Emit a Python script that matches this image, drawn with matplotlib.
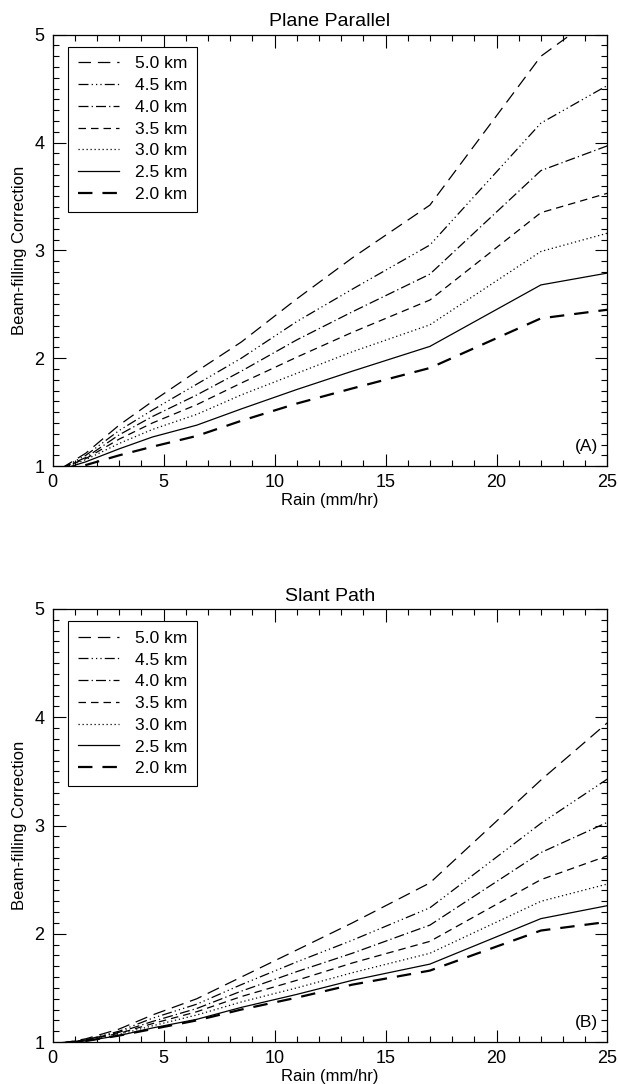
import matplotlib
matplotlib.use("Agg")
import matplotlib.pyplot as plt
from matplotlib.ticker import MultipleLocator

plt.rcParams['font.family'] = ['Liberation Sans', 'DejaVu Sans']

# rain rate (mm/hr) at the curve break points
rain = [0.4, 1.5, 3, 4.5, 6.5, 8.5, 11, 13.5, 17, 22, 25]

heights = ["5.0 km", "4.5 km", "4.0 km", "3.5 km", "3.0 km", "2.5 km", "2.0 km"]

# (A) plane parallel
pp_50 = [0.98, 1.12, 1.38, 1.60, 1.88, 2.15, 2.55, 2.93, 3.42, 4.80, 5.25]
pp_45 = [0.98, 1.10, 1.33, 1.52, 1.76, 2.00, 2.34, 2.64, 3.05, 4.18, 4.53]
pp_40 = [0.98, 1.08, 1.29, 1.46, 1.66, 1.88, 2.17, 2.43, 2.78, 3.74, 3.97]
pp_35 = [0.98, 1.07, 1.25, 1.40, 1.57, 1.77, 2.01, 2.24, 2.54, 3.35, 3.53]
pp_30 = [0.98, 1.06, 1.21, 1.34, 1.48, 1.66, 1.86, 2.06, 2.31, 2.99, 3.16]
pp_25 = [0.97, 1.04, 1.16, 1.27, 1.38, 1.53, 1.71, 1.88, 2.11, 2.68, 2.79]
pp_20 = [0.96, 1.01, 1.10, 1.18, 1.28, 1.42, 1.58, 1.72, 1.91, 2.37, 2.45]

# (B) slant path
sp_50 = [0.99, 1.03, 1.12, 1.25, 1.40, 1.60, 1.85, 2.10, 2.47, 3.42, 3.95]
sp_45 = [0.99, 1.02, 1.10, 1.22, 1.35, 1.53, 1.74, 1.94, 2.24, 3.02, 3.43]
sp_40 = [0.99, 1.02, 1.09, 1.19, 1.31, 1.47, 1.65, 1.82, 2.08, 2.75, 3.03]
sp_35 = [0.99, 1.02, 1.08, 1.17, 1.28, 1.42, 1.57, 1.73, 1.93, 2.50, 2.72]
sp_30 = [0.99, 1.01, 1.07, 1.15, 1.25, 1.37, 1.50, 1.64, 1.82, 2.30, 2.46]
sp_25 = [0.99, 1.01, 1.06, 1.13, 1.21, 1.32, 1.44, 1.57, 1.72, 2.14, 2.26]
sp_20 = [0.99, 1.01, 1.06, 1.12, 1.20, 1.30, 1.41, 1.53, 1.66, 2.03, 2.11]

styles = [
    dict(ls=(0, (10, 5.5)), lw=0.9),
    dict(ls=(0, (8, 2.5, 1, 2.5, 1, 2.5, 1, 2.5)), lw=0.9),
    dict(ls=(0, (8, 2.5, 1, 2.5)), lw=0.9),
    dict(ls=(0, (6, 4)), lw=0.9),
    dict(ls=(0, (1, 2.2)), lw=0.9),
    dict(ls='-', lw=0.9),
    dict(ls=(0, (6.5, 4.5)), lw=1.6),
]

fig = plt.figure(figsize=(6.18, 10.84), dpi=100)
ax1 = fig.add_axes([0.085, 0.570, 0.898, 0.398])
ax2 = fig.add_axes([0.085, 0.0387, 0.898, 0.3995])


def draw(ax, series, title, tag):
    for vals, lab, st in zip(series, heights, styles):
        ax.plot(rain, vals, color='black', linestyle=st['ls'], linewidth=st['lw'],
                label=lab, clip_on=True)
    ax.set_xlim(0, 25)
    ax.set_ylim(1, 5)
    ax.xaxis.set_major_locator(MultipleLocator(5))
    ax.xaxis.set_minor_locator(MultipleLocator(1))
    ax.yaxis.set_major_locator(MultipleLocator(1))
    ax.yaxis.set_minor_locator(MultipleLocator(0.1))
    ax.tick_params(which='both', direction='in', top=True, right=True,
                   labelsize=13, width=0.8)
    ax.tick_params(which='major', length=9, pad=6)
    ax.tick_params(which='minor', length=4.5)
    for sp in ax.spines.values():
        sp.set_linewidth(0.9)
    ax.set_title(title, fontsize=14, pad=6)
    ax.set_xlabel("Rain (mm/hr)", fontsize=12, labelpad=1)
    ax.set_ylabel("Beam-filling Correction", fontsize=12, labelpad=5)
    ax.text(0.962, 0.045, tag, transform=ax.transAxes, fontsize=12.5,
            ha='center', va='center')
    leg = ax.legend(loc='upper left', bbox_to_anchor=(0.028, 0.972), fontsize=12.5,
                    frameon=True, fancybox=False, framealpha=1, edgecolor='black',
                    handlelength=2.4, handletextpad=0.9, labelspacing=0.38,
                    borderpad=0.55, borderaxespad=0)
    leg.get_frame().set_linewidth(0.8)


draw(ax1, [pp_50, pp_45, pp_40, pp_35, pp_30, pp_25, pp_20], "Plane Parallel", "(A)")
draw(ax2, [sp_50, sp_45, sp_40, sp_35, sp_30, sp_25, sp_20], "Slant Path", "(B)")

fig.savefig("out.png", dpi=100)
